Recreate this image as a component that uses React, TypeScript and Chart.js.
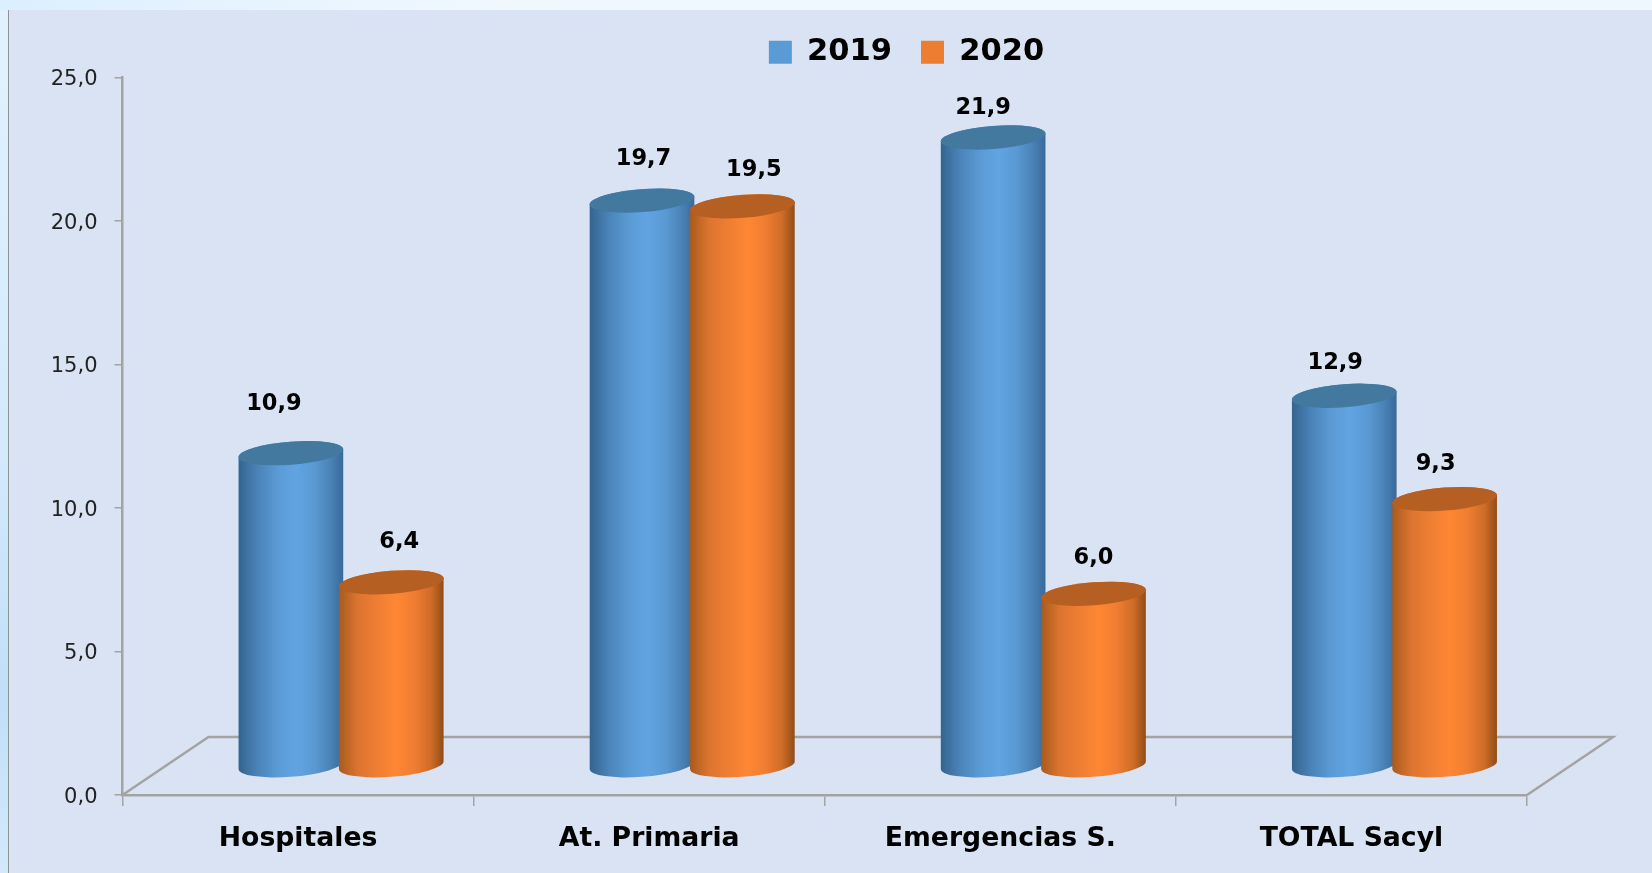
import React, { useEffect, useRef } from "react";
import { Chart, registerables } from "chart.js";

Chart.register(...registerables);

const categories = ["Hospitales", "At. Primaria", "Emergencias S.", "TOTAL Sacyl"];
const seriesNames = ["2019", "2020"];
const values2019 = [10.9, 19.7, 21.9, 12.9];
const values2020 = [6.4, 19.5, 6.0, 9.3];
const yTicks = { min: 0, max: 25, step: 5 };

// Hand-placed label offsets of the reference (dx, dy from the cylinder's top centre)
const labelNudges = [
  [[-17, -49], [1.5, -41], [-10, -29.5], [-9, -33]],
  [[8, -40], [11.5, -36], [0, -36], [-9, -34.5]],
];

const FONT = '"DejaVu Sans", sans-serif';
const PANEL = "#dae3f3";
const AXIS = "#a3a3a3";
const DEPTH_X = 86;
const DEPTH_Y = 58;
const TILT = -0.077;
const RY = 11.5;

const palettes = [
  { base: "#5b9bd5", top: "#44799f", stops: ["#34648e", "#4a83b8", "#5b9bd5", "#60a4e2", "#5a9ad3", "#4a82b6", "#38699a"] },
  { base: "#ed7d31", top: "#b55f22", stops: ["#a85a1d", "#dc7430", "#f07f33", "#ff8733", "#f07d32", "#cf6c27", "#8f4c17"] },
];
const stopAt = [0, 0.18, 0.38, 0.55, 0.72, 0.88, 1];

function formatValue(v: number) {
  return v.toFixed(1).replace(".", ",");
}

function drawCylinder(ctx: CanvasRenderingContext2D, cx: number, topY: number, baseY: number, w: number, pal: typeof palettes[0]) {
  const rx = w / 2;
  const t0 = Math.atan(-(RY / rx) * Math.tan(TILT));
  const g = ctx.createLinearGradient(cx - rx, 0, cx + rx, 0);
  pal.stops.forEach((c, i) => g.addColorStop(stopAt[i], c));
  ctx.beginPath();
  ctx.ellipse(cx, baseY, rx, RY, TILT, t0, t0 + Math.PI, false);
  ctx.ellipse(cx, topY, rx, RY, TILT, t0 + Math.PI, t0 + 2 * Math.PI, false);
  ctx.closePath();
  ctx.fillStyle = g;
  ctx.fill();
  ctx.beginPath();
  ctx.ellipse(cx, topY, rx, RY, TILT, 0, 2 * Math.PI);
  ctx.fillStyle = pal.top;
  ctx.fill();
}

const scenePlugin = {
  id: "scene",
  beforeDraw(chart: any) {
    const { ctx, width, height } = chart;
    ctx.save();
    const top = ctx.createLinearGradient(0, 0, width, 0);
    top.addColorStop(0, "#dceffe");
    top.addColorStop(0.3, "#f0f8fe");
    top.addColorStop(1, "#eef7fe");
    ctx.fillStyle = top;
    ctx.fillRect(0, 0, width, 10);
    const left = ctx.createLinearGradient(0, 0, 0, height);
    left.addColorStop(0, "#e2f2ff");
    left.addColorStop(0.5, "#d3eafc");
    left.addColorStop(0.8, "#bfe0f8");
    left.addColorStop(1, "#d2e9fb");
    ctx.fillStyle = left;
    ctx.fillRect(0, 10, 8, height - 10);
    ctx.fillStyle = "#8f9499";
    ctx.fillRect(8, 10, 1, height - 10);
    ctx.fillStyle = PANEL;
    ctx.fillRect(9, 10, width - 9, height - 10);
    ctx.restore();
  },
  afterLayout(chart: any) {
    const legend = chart.legend;
    legend.top = 8;
    legend.bottom = 78;
    legend.left += 143;
    legend.right += 143;
  },
  beforeDatasetsDraw(chart: any) {
    const { ctx, chartArea } = chart;
    const { left, right, bottom } = chartArea;
    ctx.save();
    ctx.strokeStyle = AXIS;
    ctx.lineWidth = 2.5;
    ctx.beginPath();
    ctx.moveTo(left, bottom);
    ctx.lineTo(left + DEPTH_X, bottom - DEPTH_Y);
    ctx.lineTo(right + DEPTH_X, bottom - DEPTH_Y);
    ctx.lineTo(right, bottom);
    ctx.stroke();
    // Cylinders, from each bar element that the scales placed
    categories.forEach((_, i) => {
      chart.data.datasets.forEach((_d: any, di: number) => {
        const el = chart.getDatasetMeta(di).data[i];
        drawCylinder(ctx, el.x + DEPTH_X / 2, el.y - DEPTH_Y / 2, el.base - DEPTH_Y / 2, el.width, palettes[di]);
      });
    });
    ctx.fillStyle = "#000";
    ctx.font = `bold 22.5px ${FONT}`;
    ctx.textAlign = "center";
    ctx.textBaseline = "middle";
    chart.data.datasets.forEach((d: any, di: number) => {
      chart.getDatasetMeta(di).data.forEach((el: any, i: number) => {
        const [dx, dy] = labelNudges[di][i];
        ctx.fillText(formatValue(d.data[i]), el.x + DEPTH_X / 2 + dx, el.y - DEPTH_Y / 2 + dy);
      });
    });
    ctx.restore();
    return false;
  },
};

export default function App() {
  const ref = useRef<HTMLCanvasElement>(null);
  useEffect(() => {
    const chart = new Chart(ref.current!, {
      type: "bar",
      data: {
        labels: categories,
        datasets: [
          { label: seriesNames[0], data: values2019, backgroundColor: palettes[0].base },
          { label: seriesNames[1], data: values2020, backgroundColor: palettes[1].base },
        ],
      },
      options: {
        animation: false,
        responsive: false,
        devicePixelRatio: 1,
        categoryPercentage: 0.5716,
        barPercentage: 1.046,
        layout: { padding: { top: 8, right: 125, bottom: 0, left: 0 } },
        scales: {
          x: {
            afterFit: (s: any) => { s.height = 78; },
            border: { color: AXIS, width: 2.5 },
            grid: { drawOnChartArea: false, color: AXIS, lineWidth: 1.5, tickLength: 11 },
            ticks: { color: "#000", padding: 17, maxRotation: 0, font: { family: FONT, size: 26.7, weight: "bold" } },
          },
          y: {
            min: yTicks.min,
            max: yTicks.max,
            afterFit: (s: any) => { s.width = 122.5; },
            border: { color: AXIS, width: 2.5 },
            grid: { drawOnChartArea: false, color: AXIS, lineWidth: 1.5, tickLength: 8 },
            ticks: {
              stepSize: yTicks.step,
              color: "#222",
              padding: 17,
              labelOffset: 2.5,
              font: { family: FONT, size: 21 },
              callback: (v: any) => formatValue(Number(v)),
            },
          },
        },
        plugins: {
          tooltip: { enabled: false },
          legend: {
            display: true,
            position: "top",
            maxHeight: 78,
            labels: {
              boxWidth: 23,
              boxHeight: 23,
              padding: 29,
              color: "#000",
              font: { family: FONT, size: 30.5, weight: "bold" },
            },
          },
        },
      } as any,
      plugins: [scenePlugin as any],
    });
    return () => chart.destroy();
  }, []);
  return (
    <div style={{ position: "fixed", left: 0, top: 0, width: 1652, height: 873, overflow: "hidden" }}>
      <canvas ref={ref} width={1652} height={873} style={{ display: "block" }} />
    </div>
  );
}
